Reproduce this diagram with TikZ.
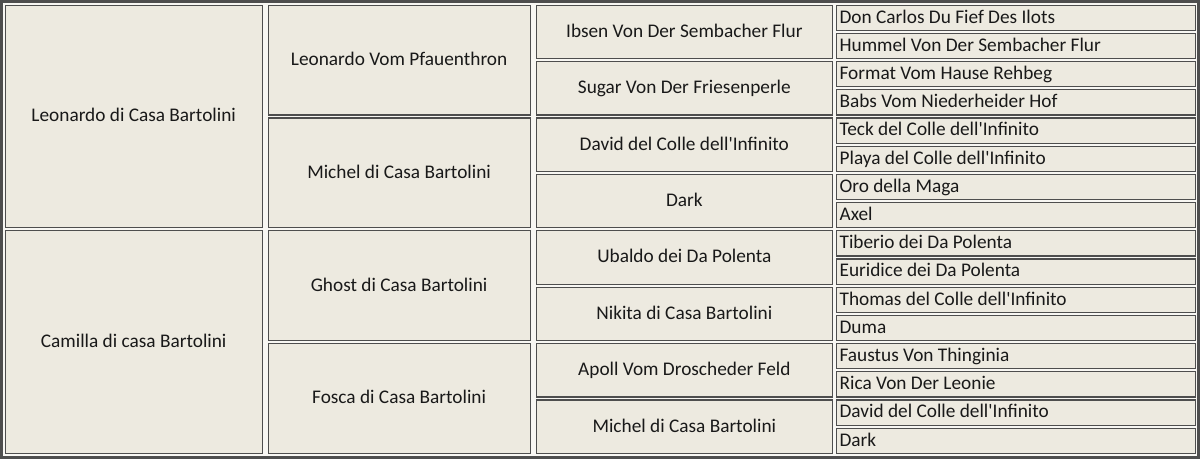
\documentclass[tikz,border=0pt]{standalone}
\usepackage{fontspec}
\setmainfont{Carlito}
\usepackage{xcolor}
\definecolor{sfondo}{RGB}{237,234,224}
\definecolor{bordo}{RGB}{78,78,78}

\tikzset{
  cella/.style={rectangle, draw=bordo, line width=1.2pt, fill=sfondo, inner sep=0pt,
    anchor=north west, text=black!90, text height=14.3pt, text depth=3.7pt,
    font=\fontsize{19.3}{23}\selectfont},
  gen1/.style={cella, minimum width=257pt, minimum height=222.6pt},
  gen2/.style={cella, minimum width=262pt, minimum height=109.8pt},
  gen3/.style={cella, minimum width=296.5pt, minimum height=53.4pt},
  gen4/.style={cella, inner xsep=3pt, text width=353pt, align=flush left, minimum height=25.2pt}
}

\begin{document}
\begin{tikzpicture}[x=1pt, y=-1pt]
	\useasboundingbox (0,0) rectangle (1200,459);
	\fill[white!60!sfondo] (0,0) rectangle (1200,459);
	\draw[bordo, line width=2.6pt] (1.3,1.3) rectangle (1198.7,457.7);

	% Genitori
	\node[gen1] (p1) at (4.6,4.6) {Leonardo di Casa Bartolini};
	\node[gen1] (p2) at (4.6,230.2) {Camilla di casa Bartolini};

	% Nonni
	\node[gen2] (n1) at (267.5,4.6) {Leonardo Vom Pfauenthron};
	\node[gen2] (n2) at (267.5,117.4) {Michel di Casa Bartolini};
	\node[gen2] (n3) at (267.5,230.2) {Ghost di Casa Bartolini};
	\node[gen2] (n4) at (267.5,343) {Fosca di Casa Bartolini};

	% Bisnonni
	\foreach \nome [count=\i] in {Ibsen Von Der Sembacher Flur, Sugar Von Der Friesenperle,
		David del Colle dell\textquotesingle Infinito, Dark, Ubaldo dei Da Polenta,
		Nikita di Casa Bartolini, Apoll Vom Droscheder Feld, Michel di Casa Bartolini}
		\node[gen3] (b\i) at (535.5,{4.6+(\i-1)*56.4}) {\nome};

	% Trisavoli
	\foreach \nome [count=\i] in {Don Carlos Du Fief Des Ilots, Hummel Von Der Sembacher Flur,
		Format Vom Hause Rehbeg, Babs Vom Niederheider Hof,
		Teck del Colle dell\textquotesingle Infinito, Playa del Colle dell\textquotesingle Infinito,
		Oro della Maga, Axel, Tiberio dei Da Polenta, Euridice dei Da Polenta,
		Thomas del Colle dell\textquotesingle Infinito, Duma, Faustus Von Thinginia,
		Rica Von Der Leonie, David del Colle dell\textquotesingle Infinito, Dark}
		\node[gen4] (t\i) at (836,{4.6+(\i-1)*28.2}) {\nome};
\end{tikzpicture}
\end{document}
